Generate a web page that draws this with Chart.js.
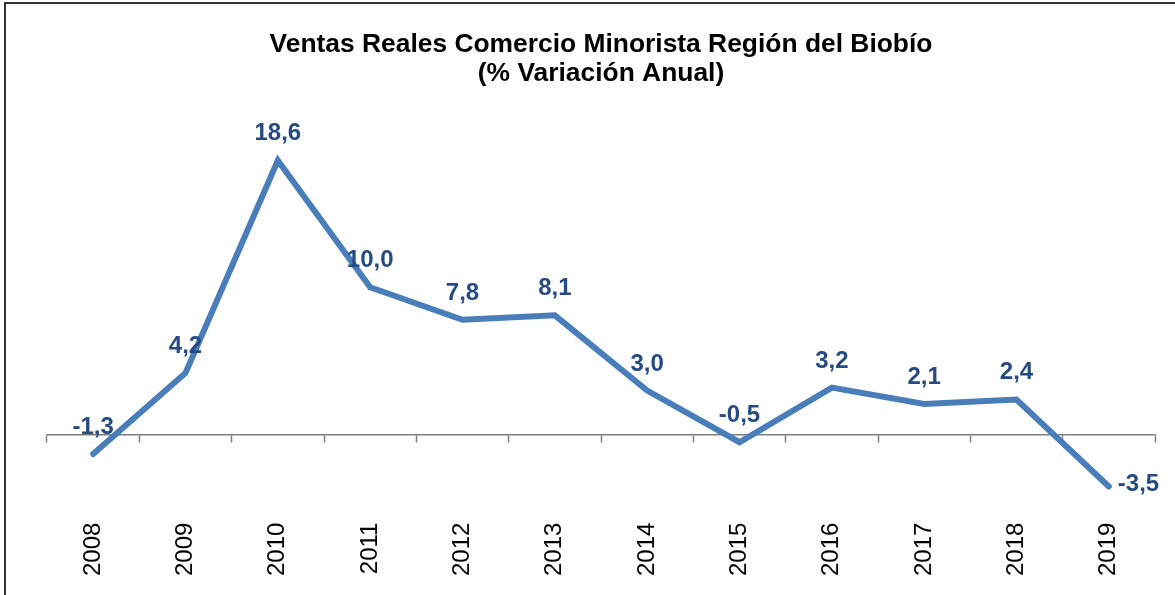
<!DOCTYPE html>
<html>
<head>
<meta charset="utf-8">
<script src="https://cdn.jsdelivr.net/npm/chart.js@4"></script>
<style>
  html, body { margin: 0; padding: 0; background: #ffffff; }
  #wrap { width: 1175px; height: 595px; position: relative; }
</style>
</head>
<body>
<div id="wrap"><canvas id="c" width="1175" height="595"></canvas></div>
<script>
const years = ['2008','2009','2010','2011','2012','2013','2014','2015','2016','2017','2018','2019'];
const variacion = [-1.3, 4.2, 18.6, 10.0, 7.8, 8.1, 3.0, -0.5, 3.2, 2.1, 2.4, -3.5];
const titleLines = ['Ventas Reales Comercio Minorista Región del Biobío', '(% Variación Anual)'];

const FONT = '"Liberation Sans", Arial, Helvetica, sans-serif';

const framePlugin = {
  id: 'frame',
  beforeDraw(chart) {
    const ctx = chart.ctx;
    ctx.save();
    ctx.fillStyle = '#ffffff';
    ctx.fillRect(0, 0, chart.width, chart.height);
    ctx.strokeStyle = '#333333';
    ctx.lineWidth = 2;
    ctx.strokeRect(5, 3, chart.width + 20, chart.height + 20);
    ctx.restore();
  }
};

const valueLabels = {
  id: 'valueLabels',
  afterDatasetsDraw(chart) {
    const ctx = chart.ctx;
    const meta = chart.getDatasetMeta(0);
    const data = chart.data.datasets[0].data;
    ctx.save();
    ctx.font = 'bold 24px ' + FONT;
    ctx.fillStyle = '#264B82';
    meta.data.forEach((pt, i) => {
      const txt = data[i].toFixed(1).replace('.', ',');
      if (i === data.length - 1) {
        ctx.textAlign = 'left';
        ctx.textBaseline = 'middle';
        ctx.fillText(txt, pt.x + 9, pt.y - 2);
      } else {
        ctx.textAlign = 'center';
        ctx.textBaseline = 'alphabetic';
        ctx.fillText(txt, pt.x, pt.y - 20);
      }
    });
    ctx.restore();
  }
};

new Chart(document.getElementById('c'), {
  type: 'line',
  data: {
    labels: years,
    datasets: [{
      data: variacion,
      xAxisID: 'x',
      yAxisID: 'y',
      borderColor: '#4A7EBB',
      borderWidth: 6,
      borderCapStyle: 'round',
      borderJoinStyle: 'miter',
      pointRadius: 0,
      pointHoverRadius: 0,
      tension: 0,
      fill: false
    }]
  },
  options: {
    responsive: false,
    animation: false,
    events: [],
    layout: { padding: { left: 47, right: 20, top: 0, bottom: 5 } },
    plugins: {
      legend: { display: false },
      tooltip: { enabled: false },
      title: {
        display: true,
        text: titleLines,
        color: '#000000',
        font: { family: FONT, size: 26.4, weight: 'bold', lineHeight: 1.1 },
        padding: { top: 30, bottom: 37 }
      }
    },
    scales: {
      y: {
        display: false,
        min: -5,
        max: 21
      },
      x: {
        type: 'category',
        position: { y: 0 },
        offset: true,
        grid: {
          offset: true,
          drawOnChartArea: false,
          drawTicks: true,
          tickLength: 7,
          tickWidth: 1.5,
          tickColor: '#7f7f7f'
        },
        border: { display: true, color: '#7f7f7f', width: 1.5 },
        ticks: { display: false }
      },
      x2: {
        type: 'category',
        axis: 'x',
        position: 'bottom',
        offset: true,
        grid: { display: false, drawTicks: false },
        border: { display: false },
        ticks: {
          autoSkip: false,
          maxRotation: 90,
          minRotation: 90,
          padding: 14,
          color: '#000000',
          font: { family: FONT, size: 24 }
        }
      }
    }
  },
  plugins: [framePlugin, valueLabels]
});
</script>
</body>
</html>
